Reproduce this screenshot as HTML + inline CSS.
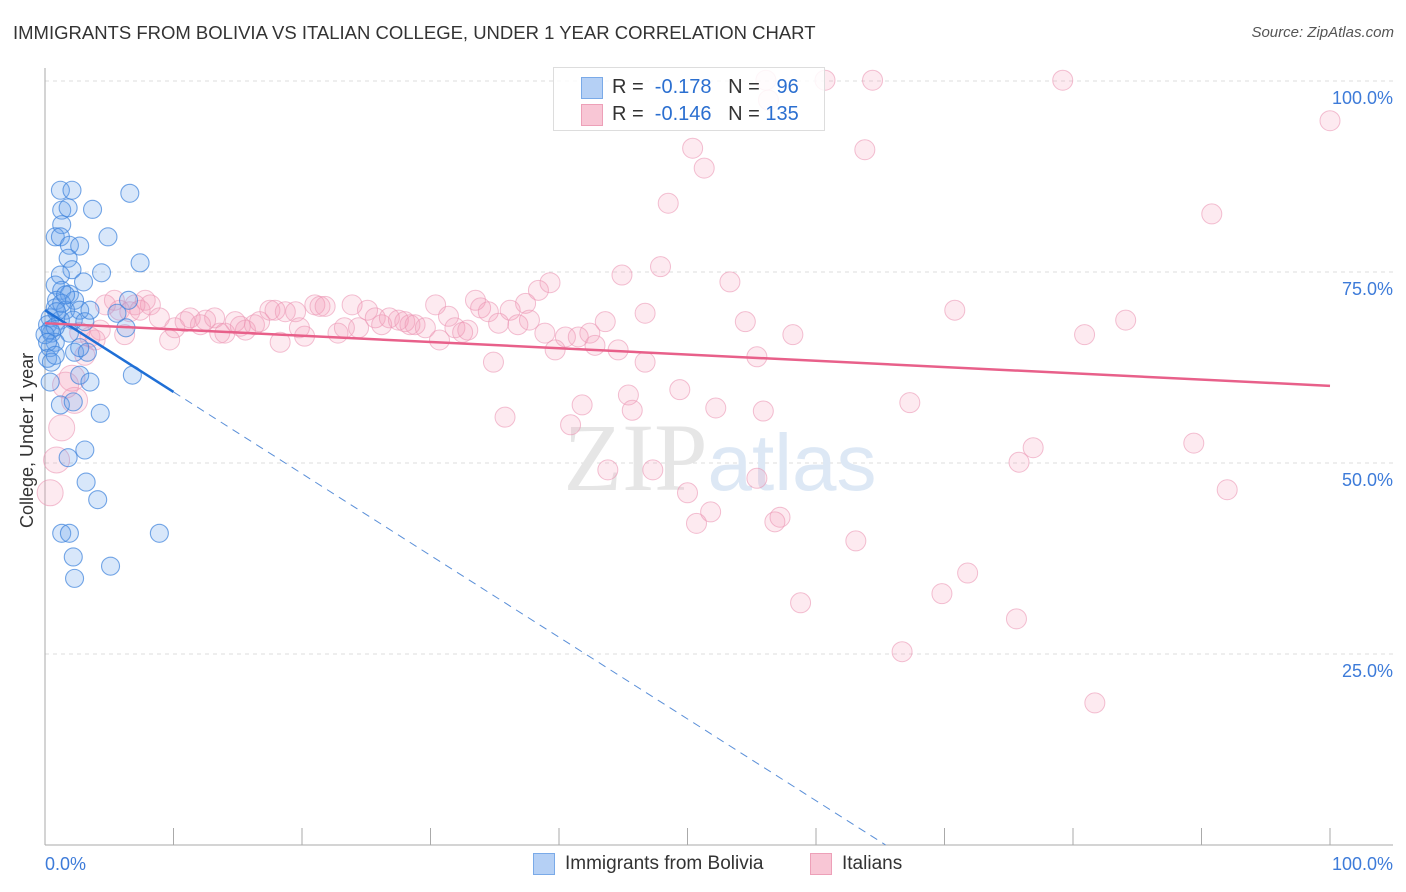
<!DOCTYPE html>
<html><head><meta charset="utf-8">
<style>
body{margin:0;background:#fff;font-family:"Liberation Sans",sans-serif;}
#wrap{position:relative;width:1406px;height:892px;overflow:hidden;}
.t{position:absolute;white-space:nowrap;}
</style></head>
<body>
<div id="wrap">
<div class="t" style="left:13px;top:22px;font-size:18.5px;color:#333;">IMMIGRANTS FROM BOLIVIA VS ITALIAN COLLEGE, UNDER 1 YEAR CORRELATION CHART</div>
<div class="t" style="right:12px;top:24px;font-size:15px;color:#555;font-style:italic;">Source: ZipAtlas.com</div>
<div class="t" style="left:-45px;top:445px;font-size:18px;color:#333;transform:rotate(-90deg);width:145px;text-align:center;">College, Under 1 year</div>
<svg id="plot" width="1406" height="892" style="position:absolute;left:0;top:0"></svg>
<div style="position:absolute;left:553px;top:67px;width:270px;height:62px;border:1px solid #ddd;background:rgba(255,255,255,0.85);font-size:20px;color:#333;">
 <div style="position:absolute;left:27px;top:9px;width:20px;height:20px;background:#b5d0f5;border:1px solid #7aaae8;"></div>
 <div class="t" style="left:58px;top:8px;">R = &nbsp;<span style="color:#2b6fd0">-0.178</span>&nbsp;&nbsp;&nbsp;N = &nbsp;&nbsp;<span style="color:#2b6fd0">96</span></div>
 <div style="position:absolute;left:27px;top:36px;width:20px;height:20px;background:#f8c6d5;border:1px solid #eda0b8;"></div>
 <div class="t" style="left:58px;top:35px;">R = &nbsp;<span style="color:#2b6fd0">-0.146</span>&nbsp;&nbsp;&nbsp;N = <span style="color:#2b6fd0">135</span></div>
</div>
<div>
 <div style="position:absolute;left:533px;top:853px;width:20px;height:20px;background:#b5d0f5;border:1px solid #7aaae8;"></div>
 <div class="t" style="left:565px;top:853px;font-size:19px;color:#333;">Immigrants from Bolivia</div>
 <div style="position:absolute;left:810px;top:853px;width:20px;height:20px;background:#f8c6d5;border:1px solid #eda0b8;"></div>
 <div class="t" style="left:842px;top:853px;font-size:19px;color:#333;">Italians</div>
</div>
</div>
<script>
const yTicks=[25,50,75,100];
const yTickLabels=["25.0%","50.0%","75.0%","100.0%"];
const blueX=[1.2,2.1,6.6,1.3,1.8,3.7,1.3,0.8,1.2,4.9,1.9,2.7,1.8,7.4,2.1,4.4,1.2,3.0,0.8,1.3,1.9,0.9,2.3,6.5,0.8,1.6,2.7,5.6,0.4,1.2,2.2,3.1,0.2,6.3,0.5,1.9,0.8,2.3,3.3,0.4,0.2,0.5,2.7,6.8,0.4,3.5,1.2,2.2,4.3,1.8,3.1,3.2,4.1,1.3,1.9,8.9,2.2,5.1,2.3,0.4,0.8,1.3,0.9,0,0.2,1.6,3.5,0.8,2.7];
const blueY=[85.7,85.7,85.3,83.1,83.4,83.2,81.2,79.6,79.6,79.6,78.5,78.4,76.8,76.2,75.3,74.9,74.6,73.7,73.3,72.6,72.1,71.3,71.3,71.3,70.3,70.0,70.0,69.6,69.0,68.7,68.7,68.5,68.1,67.7,67.0,67.0,65.8,64.5,64.5,65.1,63.7,63.2,61.5,61.5,60.6,60.6,57.6,58.0,56.5,50.7,51.7,47.5,45.2,40.8,40.8,40.8,37.7,36.5,34.9,67.4,67.8,70.9,69.8,66.8,65.8,72.0,70.0,64.1,65.1];
const pinkX=[0.4,1.3,0.9,2.1,2.3,3.1,3.5,4.3,4.7,5.8,6.6,7.8,8.2,8.9,9.7,10.1,10.9,11.3,12.1,12.5,13.2,13.6,14.0,14.8,15.2,15.6,16.3,16.7,17.5,17.9,18.3,18.7,19.5,19.8,20.2,21.0,21.4,21.8,22.8,23.3,23.9,24.4,25.1,25.7,26.2,26.8,27.5,28.0,28.4,28.8,29.6,30.4,30.7,31.4,31.9,32.5,32.9,33.5,33.9,34.5,34.9,35.3,35.8,36.2,36.8,37.4,37.7,38.4,38.9,39.3,39.7,40.5,40.9,41.5,41.8,42.4,42.8,43.6,43.8,44.6,44.9,45.4,45.7,46.7,46.7,47.3,47.9,48.5,49.4,50.0,50.4,50.7,51.3,51.8,52.2,53.3,54.5,55.4,55.4,55.9,56.1,56.8,57.2,58.2,58.8,60.7,63.1,63.8,64.4,66.7,67.3,69.8,70.8,71.8,75.6,75.8,76.9,79.2,80.9,81.7,84.1,89.4,90.8,92.0,100,7.4,6.2,2.7,3.9,5.4,7.0,56.3,1.6];
const pinkY=[46.1,54.6,50.4,61.1,58.2,64.1,66.5,67.4,70.7,70.0,69.8,71.3,70.7,69.0,66.1,67.7,68.5,69.0,68.1,68.7,69.0,67.0,67.0,68.5,67.9,67.4,68.1,68.5,70.0,70.0,65.8,69.8,69.8,67.7,66.6,70.7,70.5,70.5,67.0,67.7,70.7,67.7,70.0,69.0,68.1,69.0,68.7,68.5,68.1,68.1,67.7,70.7,66.1,69.2,67.7,67.1,67.4,71.3,70.3,69.8,63.2,68.3,56.0,70.0,68.1,70.9,68.7,72.6,67.0,73.6,64.8,66.5,55.0,66.5,57.6,67.0,65.4,68.5,49.1,64.8,74.6,58.9,56.9,69.6,63.2,49.1,75.7,84.0,59.6,46.1,91.2,42.1,88.6,43.6,57.2,73.7,68.5,48.0,63.9,56.8,100.1,42.3,42.9,66.8,31.7,100.1,39.8,91.0,100.1,25.3,57.9,32.9,70.0,35.6,29.6,50.1,52.0,100.1,66.8,18.6,68.7,52.6,82.6,46.5,94.8,70.0,66.8,67.1,66.1,71.3,70.7,97.5,60.2];
const blueTrend=[70.0,59.3];  // values at x=0 and x=10
const pinkTrend=[68.3,60.1];  // values at x=0 and x=100

const X=v=>45+v*12.85, Y=v=>845-v*7.64;
const NS="http://www.w3.org/2000/svg", svg=document.getElementById('plot');
function mk(tag,a){const e=document.createElementNS(NS,tag);for(const k in a)e.setAttribute(k,a[k]);svg.appendChild(e);return e;}
yTicks.forEach((t,i)=>{
 const g=mk('line',{x1:45,x2:1393,y1:Y(t),y2:Y(t),stroke:'#ddd','stroke-dasharray':'4,4'});
 
 
 const tx=mk('text',{x:1393,y:Y(t)+23,'text-anchor':'end','font-size':18,fill:'#3d7bd9','font-family':'Liberation Sans'});
 tx.textContent=yTickLabels[i];
 
 
});
const ya=mk('line',{x1:45,x2:45,y1:68,y2:845,stroke:'#aaa'});


const xa=mk('line',{x1:45,x2:1393,y1:845,y2:845,stroke:'#aaa'});


for(let i=0;i<=10;i++){const tk=mk('line',{x1:X(i*10),x2:X(i*10),y1:828,y2:845,stroke:'#aaa'});
 
 }
[["0.0%",45,'start'],["100.0%",1393,'end']].forEach(a=>{const t=mk('text',{x:a[1],y:870,'text-anchor':a[2],'font-size':18,fill:'#3d7bd9','font-family':'Liberation Sans'});t.textContent=a[0];
 
 });
const wm=mk('text',{x:720,y:490,'text-anchor':'middle','font-size':96,'font-family':'Liberation Serif',fill:'#e6e6e6'});
wm.innerHTML='ZIP<tspan fill="#dde8f5" font-family="Liberation Sans" font-size="80">atlas</tspan>';


pinkX.forEach((x,i)=>{const c=mk('circle',{cx:X(x),cy:Y(pinkY[i]),r:x<2.5?13:10,fill:'rgba(244,150,180,0.2)',stroke:'rgba(235,150,180,0.6)','stroke-width':1});
 
 });
blueX.forEach((x,i)=>{const c=mk('circle',{cx:X(x),cy:Y(blueY[i]),r:9,fill:'rgba(100,160,235,0.25)',stroke:'rgba(60,130,220,0.7)','stroke-width':1.1});
 
 });
const bs=(blueTrend[1]-blueTrend[0])/10, bx0=-blueTrend[0]/bs;
const bl=mk('line',{x1:X(0),y1:Y(blueTrend[0]),x2:X(10),y2:Y(blueTrend[1]),stroke:'#1f6fd6','stroke-width':2.5});


const bd=mk('line',{x1:X(10),y1:Y(blueTrend[1]),x2:X(bx0),y2:Y(0),stroke:'#5a8fd8','stroke-width':1,'stroke-dasharray':'8,6'});


const pl=mk('line',{x1:X(0),y1:Y(pinkTrend[0]),x2:X(100),y2:Y(pinkTrend[1]),stroke:'#e8608a','stroke-width':2.5});


</script>
</body></html>
